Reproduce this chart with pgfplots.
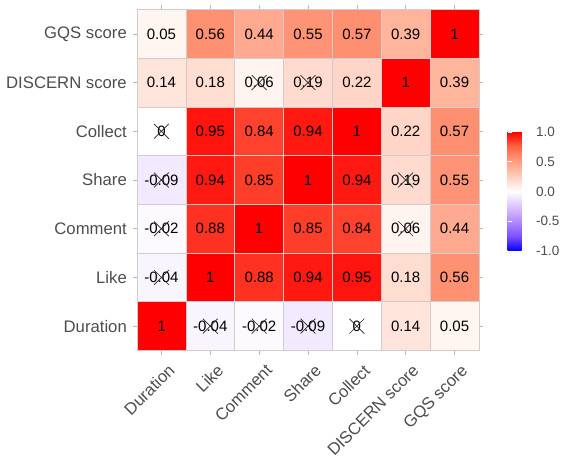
\documentclass[border=0pt]{standalone}
\usepackage{fontspec}
\setmainfont{Liberation Sans}
\usepackage{pgfplots}
\pgfplotsset{compat=1.18}
\usepackage{pgfplotstable}

\definecolor{labgray}{HTML}{4D4D4D}
\definecolor{cellline}{RGB}{210,204,204}
\definecolor{tickgray}{RGB}{185,185,185}

% correlation matrix: x = column, y = row (0 = Duration ... 6 = GQS score)
\pgfplotstableread{
x y c
0 6 0.05
1 6 0.56
2 6 0.44
3 6 0.55
4 6 0.57
5 6 0.39
6 6 1
0 5 0.14
1 5 0.18
2 5 0.06
3 5 0.19
4 5 0.22
5 5 1
6 5 0.39
0 4 0
1 4 0.95
2 4 0.84
3 4 0.94
4 4 1
5 4 0.22
6 4 0.57
0 3 -0.09
1 3 0.94
2 3 0.85
3 3 1
4 3 0.94
5 3 0.19
6 3 0.55
0 2 -0.02
1 2 0.88
2 2 1
3 2 0.85
4 2 0.84
5 2 0.06
6 2 0.44
0 1 -0.04
1 1 1
2 1 0.88
3 1 0.94
4 1 0.95
5 1 0.18
6 1 0.56
0 0 1
1 0 -0.04
2 0 -0.02
3 0 -0.09
4 0 0
5 0 0.14
6 0 0.05
}\corrcells

% pairs that are not significant
\pgfplotstableread{
x y
0 4
0 3
0 2
0 1
1 0
2 0
3 0
4 0
2 5
3 5
5 2
5 3
}\insig

\begin{document}
\begin{tikzpicture}
\useasboundingbox (-137bp,-111.5bp) rectangle (430bp,350.5bp);
\begin{axis}[
  scale only axis,
  width=342bp, height=341bp,
  xmin=-0.5, xmax=6.5, ymin=-0.5, ymax=6.5,
  clip=false,
  axis line style={draw=none},
  xtick={0,...,6}, ytick={0,...,6},
  xticklabels={Duration,Like,Comment,Share,Collect,DISCERN score,GQS score},
  yticklabels={Duration,Like,Comment,Share,Collect,DISCERN score,GQS score},
  tick pos=both,
  tick align=outside,
  major tick length=4bp,
  tick style={draw=tickgray, line width=0.6bp},
  xticklabel pos=left, yticklabel pos=left,
  xticklabel style={font=\fontsize{16.7bp}{20bp}\selectfont, text=labgray,
    rotate=45, anchor=north east, inner sep=1bp, yshift=-9bp, xshift=-1bp},
  yticklabel style={font=\fontsize{16.7bp}{20bp}\selectfont, text=labgray,
    inner sep=1bp, xshift=-5bp},
  colormap={corr}{
    rgb255(0cm)=(0,0,255);
    rgb255(1cm)=(126,81,255);
    rgb255(2cm)=(179,139,255);
    rgb255(3cm)=(220,196,255);
    rgb255(4cm)=(255,255,255);
    rgb255(5cm)=(255,207,191);
    rgb255(6cm)=(255,158,129);
    rgb255(7cm)=(255,103,70);
    rgb255(8cm)=(255,0,0)},
  point meta min=-1, point meta max=1,
  colorbar right,
  colorbar style={
    scale only axis,
    width=23bp, height=119bp,
    at={(parent axis.east)}, anchor=west,
    xshift=20bp, yshift=-11.5bp,
    axis line style={draw=none},
    ytick={-1,-0.5,0,0.5,1},
    yticklabels={-1.0,-0.5,0.0,0.5,1.0},
    ytick pos=both,
    yticklabel pos=right,
    tick align=inside,
    major tick length=4.6bp,
    tick style={draw=white, line width=0.6bp},
    yticklabel style={font=\fontsize{13.5bp}{16bp}\selectfont, text=labgray,
      xshift=2bp},
  },
]
\addplot[scatter, only marks, mark=square*, point meta=explicit,
  mark size=24.43bp,
  scatter/use mapped color={draw=cellline, fill=mapped color, line width=0.7bp}]
  table[x=x, y=y, meta=c] {\corrcells};

\addplot[only marks, mark=none, point meta=explicit symbolic,
  nodes near coords, nodes near coords align={center},
  every node near coord/.append style={font=\fontsize{15bp}{18bp}\selectfont,
    text=black, anchor=center, inner sep=0pt}]
  table[x=x, y=y, meta=c] {\corrcells};

\addplot[only marks, mark=x, mark size=10.5bp,
  mark options={draw=black!85, line width=0.7bp}]
  table[x=x, y=y] {\insig};
\end{axis}
\end{tikzpicture}
\end{document}
